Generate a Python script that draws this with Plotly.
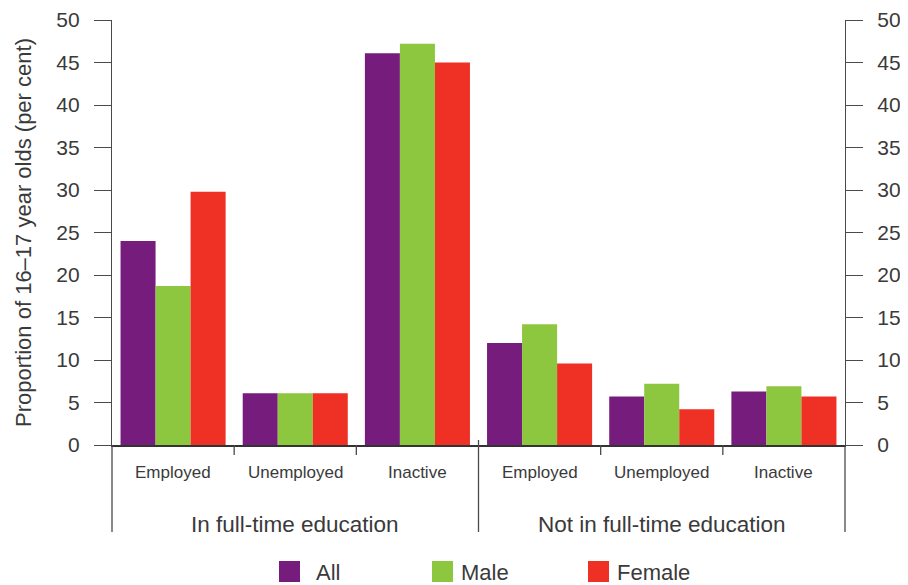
import plotly.graph_objects as go

# ---- data ----
groups = ["In full-time education", "Not in full-time education"]
statuses = ["Employed", "Unemployed", "Inactive"]
series_names = ["All", "Male", "Female"]
all_vals = [24.0, 6.1, 46.1, 12.0, 5.7, 6.3]
male_vals = [18.7, 6.1, 47.2, 14.2, 7.2, 6.9]
female_vals = [29.8, 6.1, 45.0, 9.6, 4.2, 5.7]
y_ticks = [0, 5, 10, 15, 20, 25, 30, 35, 40, 45, 50]
y_title = "Proportion of 16–17 year olds (per cent)"

categories = [f"{g} | {s}" for g in groups for s in statuses]
sub_labels = [s for g in groups for s in statuses]
colors = ["#761c7c", "#8dc63f", "#ee3124"]
series_vals = [all_vals, male_vals, female_vals]

FONT = "Liberation Sans"
TXT = "#3a3a3a"
LINE = "#4a4a4a"

fig = go.Figure()
for name, vals, col in zip(series_names, series_vals, colors):
    fig.add_trace(go.Bar(x=categories, y=vals, name=name, marker_color=col,
                         marker_line_width=0, showlegend=False))
# invisible trace to activate the right-hand axis
fig.add_trace(go.Scatter(x=categories, y=all_vals, yaxis="y2", mode="markers",
                         marker=dict(opacity=0), showlegend=False, hoverinfo="skip"))

axis_common = dict(range=[0, 50], tickvals=y_ticks, ticks="outside", ticklen=17,
                   tickwidth=1.3, tickcolor=LINE, showline=True, linecolor=LINE,
                   linewidth=1.3, showgrid=False, zeroline=False, automargin=False,
                   tickfont=dict(family=FONT, size=21, color=TXT),
                   ticklabelstandoff=10, ticklabeloverflow="allow")

# the page body adds an 8px offset, so the figure is 8px smaller than the window
fig.update_layout(
    width=900, height=577,
    margin=dict(l=104, r=63, t=12, b=140, autoexpand=False),
    paper_bgcolor="white", plot_bgcolor="white",
    barmode="group", bargap=0.14, bargroupgap=0,
    font=dict(family=FONT, color=TXT),
    xaxis=dict(type="category", categoryarray=categories, range=[-0.5, 5.5],
               showticklabels=False, ticks="", showline=True, linecolor="#333333",
               linewidth=2, showgrid=False, zeroline=False, fixedrange=True,
               automargin=False),
    yaxis=dict(**axis_common, side="left",
               title=dict(text=y_title, font=dict(family=FONT, size=22, color=TXT), standoff=18)),
    yaxis2=dict(**axis_common, side="right", overlaying="y", matches="y"),
    showlegend=False,
)

# plot area geometry in paper fraction (page pixel coordinates)
plot_h = 425
def py(px):
    return (445 - px) / plot_h

n = len(categories)
shapes = []
# axis extensions below baseline and the group divider
for k in [0, n // 2, n]:
    y_top = py(445) if k in (0, n) else py(440)
    shapes.append(dict(type="line", xref="paper", yref="paper", x0=k / n, x1=k / n,
                       y0=y_top, y1=py(532), line=dict(color=LINE, width=1.3)))
# short ticks between categories
for k in range(1, n):
    if k == n // 2:
        continue
    shapes.append(dict(type="line", xref="paper", yref="paper", x0=k / n, x1=k / n,
                       y0=py(445), y1=py(455), line=dict(color=LINE, width=1.3)))

annotations = []
for cat, lab in zip(categories, sub_labels):
    annotations.append(dict(x=cat, xref="x", y=py(472), yref="paper", text=lab,
                            showarrow=False, xanchor="center", yanchor="middle",
                            font=dict(family=FONT, size=17, color=TXT)))
for i, g in enumerate(groups):
    annotations.append(dict(x=(i + 0.5) / len(groups), xref="paper", y=py(524), yref="paper",
                            text=g, showarrow=False, xanchor="center", yanchor="middle",
                            font=dict(family=FONT, size=22.5, color=TXT)))

# manual legend with large square swatches
plot_w = 733
def px_(x):
    return (x - 112) / plot_w
legend_sq_x = [279, 432, 588]
for name, col, sx in zip(series_names, colors, legend_sq_x):
    shapes.append(dict(type="rect", xref="paper", yref="paper", x0=px_(sx), x1=px_(sx + 21),
                       y0=py(561), y1=py(582), fillcolor=col, line=dict(width=0)))
    annotations.append(dict(x=px_(sx + 21 + (14 if name == "All" else 6)), xref="paper",
                            y=py(572), yref="paper", text=name, showarrow=False,
                            xanchor="left", yanchor="middle",
                            font=dict(family=FONT, size=22, color=TXT)))

fig.update_layout(shapes=shapes, annotations=annotations)
fig.write_html("out.html")
